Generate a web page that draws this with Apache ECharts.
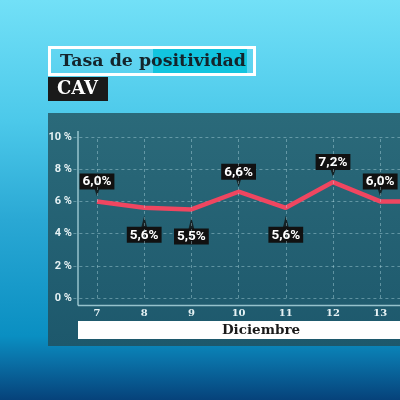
<!DOCTYPE html>
<html><head><meta charset="utf-8">
<script src="https://cdn.jsdelivr.net/npm/echarts@6/dist/echarts.min.js"></script>
<style>html,body{margin:0;padding:0;width:400px;height:400px;overflow:hidden}#c{width:400px;height:400px}</style>
</head><body><div id="c"></div><script>
const categories = ['7', '8', '9', '10', '11', '12', '13', '14'];
const values = [6.0, 5.6, 5.5, 6.6, 5.6, 7.2, 6.0, 6.0];
const yMin = 0, yMax = 10, yStep = 2;
const titleText = 'Tasa de positividad';
const regionText = 'CAV';
const monthText = 'Diciembre';

const fmt = v => v.toFixed(1).replace('.', ',') + '%';
const isUp = v => v >= 6;

const lineData = values.map(v => ({
  value: v,
  label: { position: isUp(v) ? 'top' : 'bottom', distance: isUp(v) ? 12 : 19 }
}));
const pointerData = values.map(v => ({
  value: v,
  symbolRotate: isUp(v) ? 180 : 0,
  symbolSize: isUp(v) ? [6, 9] : [6, 12],
  symbolOffset: [0, isUp(v) ? -9.5 : 14]
}));

const chart = echarts.init(document.getElementById('c'), null, { renderer: 'canvas' });
const serif = '"DejaVu Serif", serif';
chart.setOption({
  animation: false,
  backgroundColor: {
    type: 'linear', x: 0, y: 0, x2: 0, y2: 1,
    colorStops: [
      { offset: 0, color: '#72e0f7' },
      { offset: 0.3, color: '#4cc9ea' },
      { offset: 0.55, color: '#2aa8d4' },
      { offset: 0.84, color: '#0a8fc2' },
      { offset: 0.9, color: '#0a72a8' },
      { offset: 1, color: '#06427a' }
    ]
  },
  graphic: [
    { type: 'rect', z: -10, silent: true, shape: { x: 48, y: 113, width: 360, height: 233 },
      style: { fill: { type: 'linear', x: 0, y: 0, x2: 0, y2: 1, colorStops: [
        { offset: 0, color: '#2b6a7a' }, { offset: 1, color: '#1d586c' }] } } },
    { type: 'rect', z: 5, silent: true, shape: { x: 153, y: 49, width: 94, height: 24 }, style: { fill: '#12c5df' } },
    { type: 'rect', z: 5, silent: true, shape: { x: 49.5, y: 47.5, width: 205, height: 27 },
      style: { fill: 'rgba(0,0,0,0)', stroke: '#ffffff', lineWidth: 3 } },
    { type: 'text', z: 6, silent: true, x: 60, y: 61,
      style: { text: titleText, font: 'bold 17.4px ' + serif, fill: '#14242b', verticalAlign: 'middle' } },
    { type: 'rect', z: 5, silent: true, shape: { x: 48, y: 77, width: 60, height: 24 }, style: { fill: '#1a1a1a' } },
    { type: 'text', z: 6, silent: true, x: 57, y: 89.5,
      style: { text: regionText, font: 'bold 18px ' + serif, fill: '#ffffff', verticalAlign: 'middle' } },
    { type: 'rect', z: 5, silent: true, shape: { x: 78, y: 321, width: 330, height: 18 }, style: { fill: '#ffffff' } },
    { type: 'text', z: 6, silent: true, x: 261, y: 330.5,
      style: { text: monthText, font: 'bold 13.5px ' + serif, fill: '#1a1a1a', align: 'center', verticalAlign: 'middle' } },
    { type: 'line', z: 5, silent: true, shape: { x1: 78, y1: 131, x2: 78, y2: 305.5 },
      style: { stroke: 'rgba(190,228,236,0.75)', lineWidth: 1.5 } },
    { type: 'line', z: 5, silent: true, shape: { x1: 78, y1: 305.5, x2: 400, y2: 305.5 },
      style: { stroke: 'rgba(190,228,236,0.75)', lineWidth: 1.5 } }
  ],
  grid: { left: 73.4, width: 377.6, top: 137, height: 161, containLabel: false, outerBoundsMode: 'none' },
  xAxis: {
    type: 'category', data: categories, boundaryGap: true,
    axisLine: { show: false }, axisTick: { show: false }, splitLine: { show: false },
    axisLabel: { margin: 10, color: '#e6f2f4', fontFamily: serif, fontWeight: 'bold', fontSize: 10 }
  },
  yAxis: {
    type: 'value', min: yMin, max: yMax, interval: yStep,
    axisLine: { show: false }, axisTick: { show: false },
    axisLabel: { margin: 1.5, formatter: '{value} %', color: '#e6f2f4', fontFamily: 'Roboto', fontWeight: 'bold', fontSize: 11 },
    splitLine: { show: true, lineStyle: { type: [3, 3], color: 'rgba(190,228,236,0.4)', width: 1 } }
  },
  series: [
    {
      type: 'scatter', z: 1, data: pointerData, symbol: 'triangle',
      itemStyle: { color: '#111111' }, silent: true,
      markLine: {
        silent: true, symbol: ['none', 'none'], label: { show: false },
        lineStyle: { type: [3, 3], color: 'rgba(190,228,236,0.4)', width: 1 },
        data: categories.map(c => ({ xAxis: c }))
      }
    },
    {
      type: 'line', z: 3, data: lineData, showSymbol: true, symbol: 'circle', symbolSize: 0,
      lineStyle: { color: '#ef4660', width: 4.5 },
      labelLayout: { hideOverlap: false },
      label: {
        show: true, formatter: p => fmt(p.value),
        backgroundColor: '#111111', color: '#ffffff', fontFamily: 'Roboto', fontWeight: 'bold', fontSize: 13.5,
        padding: [2, 3, 1, 3], lineHeight: 13
      }
    }
  ]
});
</script></body></html>
